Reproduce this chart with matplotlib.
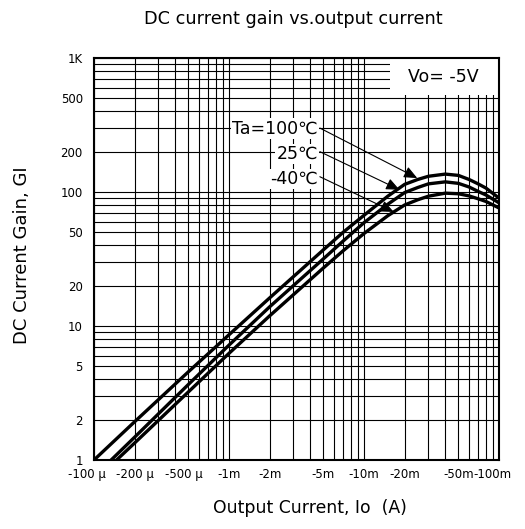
import matplotlib
matplotlib.use("Agg")
import matplotlib.pyplot as plt
from matplotlib.ticker import LogLocator, NullFormatter
from matplotlib.patches import Rectangle
from matplotlib.transforms import ScaledTranslation

plt.rcParams['font.family'] = ['DejaVu Sans', 'Noto Sans CJK JP']

# |Io| in A, DC current gain (Vo = -5V)
io_100 = [100e-6, 200e-6, 500e-6, 1e-3, 2e-3, 5e-3, 7e-3, 10e-3, 15e-3, 20e-3,
          25e-3, 30e-3, 40e-3, 50e-3, 60e-3, 70e-3, 80e-3, 100e-3]
gi_100 = [1.0, 1.93, 4.55, 8.6, 16.2, 37, 50, 67, 93, 114,
          124, 131, 136, 133, 124, 115, 107, 90]

io_25 = [134e-6, 200e-6, 500e-6, 1e-3, 2e-3, 5e-3, 7e-3, 10e-3, 15e-3, 20e-3,
         25e-3, 30e-3, 40e-3, 50e-3, 60e-3, 70e-3, 80e-3, 100e-3]
gi_25 = [1.0, 1.48, 3.66, 7.2, 13.9, 31.7, 43, 59, 81, 99,
         108, 115, 119, 116, 109, 101, 95, 83]

io_m40 = [147e-6, 200e-6, 500e-6, 1e-3, 2e-3, 5e-3, 7e-3, 10e-3, 15e-3, 20e-3,
          25e-3, 30e-3, 40e-3, 50e-3, 60e-3, 70e-3, 80e-3, 100e-3]
gi_m40 = [1.0, 1.34, 3.22, 6.25, 11.9, 27.1, 36.4, 49, 66.5, 80,
          87.5, 93, 98, 97, 93.5, 89, 85, 76]

x_ticks = [100e-6, 200e-6, 500e-6, 1e-3, 2e-3, 5e-3, 10e-3, 20e-3, 50e-3, 100e-3]
x_labels = ["-100 μ", "-200 μ", "-500 μ", "-1m", "-2m", "-5m", "-10m", "-20m", "-50m", "-100m"]
y_ticks = [1, 2, 5, 10, 20, 50, 100, 200, 500, 1000]
y_labels = ["1", "2", "5", "10", "20", "50", "100", "200", "500", "1K"]

fig = plt.figure(figsize=(5.25, 5.29), dpi=100)
ax = fig.add_axes([0.179, 0.1304, 0.7715, 0.76])

for io, gi in [(io_100, gi_100), (io_25, gi_25), (io_m40, gi_m40)]:
    ax.plot(io, gi, color="black", lw=2.4, zorder=3, solid_joinstyle="round")

ax.set_xscale("log")
ax.set_yscale("log")
ax.set_xlim(100e-6, 100e-3)
ax.set_ylim(1, 1000)

ax.set_xticks(x_ticks)
ax.set_xticklabels(x_labels)
ax.set_yticks(y_ticks)
ax.set_yticklabels(y_labels)
for axis in (ax.xaxis, ax.yaxis):
    axis.set_minor_locator(LogLocator(base=10, subs=range(2, 10)))
    axis.set_minor_formatter(NullFormatter())
ax.tick_params(which="both", length=0)
ax.tick_params(axis="x", pad=6, labelsize=8.5)
ax.tick_params(axis="y", pad=8, labelsize=8.5)

# nudge a few crowded x labels to the left like the original
shifts = {0: -7, 2: -4, 9: -7}
for i, lab in enumerate(ax.get_xticklabels()):
    if i in shifts:
        lab.set_transform(lab.get_transform() +
                          ScaledTranslation(shifts[i] / 100, 0, fig.dpi_scale_trans))

ax.set_axisbelow(True)
ax.grid(which="both", color="black", lw=0.8)
for sp in ax.spines.values():
    sp.set_linewidth(1.5)
    sp.set_zorder(5)

# white patch behind the condition text
ax.add_patch(Rectangle((0.731, 0.908), 0.269, 0.092, transform=ax.transAxes,
                       facecolor="white", edgecolor="none", zorder=2))
ax.text(0.862, 0.953, "Vo= -5V", transform=ax.transAxes, ha="center", va="center",
        fontsize=12.5, zorder=4)

# temperature labels with leader arrows
labels = [("Ta=100℃", 298, (4.71e-3, 300), (24.8e-3, 127)),
          ("25℃", 192, (4.71e-3, 200), (18.3e-3, 104)),
          ("-40℃", 125, (4.71e-3, 130), (16.6e-3, 71))]
for txt, ty, start, tip in labels:
    ax.text(4.56e-3, ty, txt, ha="right", va="center", fontsize=12.5, zorder=4,
            bbox=dict(facecolor="white", edgecolor="none", pad=1))
    ax.annotate("", xy=tip, xytext=start, zorder=4,
                arrowprops=dict(arrowstyle="-|>,head_length=0.8,head_width=0.35",
                                color="black", lw=0.8, mutation_scale=10,
                                shrinkA=0, shrinkB=0))

fig.text(0.559, 0.964, "DC current gain vs.output current", ha="center", va="center",
         fontsize=12.7)
fig.text(0.59, 0.040, "Output Current, Io  (A)", ha="center", va="center", fontsize=12.4)
fig.text(0.042, 0.518, "DC Current Gain, GI", ha="center", va="center", rotation=90,
         fontsize=13)

fig.savefig("out.png", dpi=100)
